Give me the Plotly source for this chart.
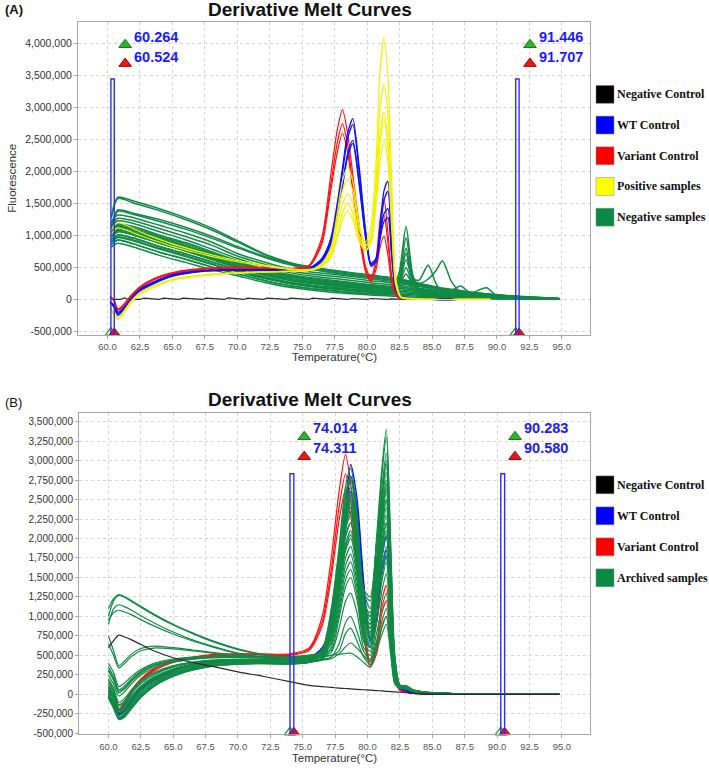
import plotly.graph_objects as go

# ===================== DATA =====================
# ---------- Panel A (values in thousands of fluorescence units) ----------
xa_ctrl = [60.2, 60.5, 60.8, 61.2, 61.8, 62.5, 63.5, 65, 66.5, 68, 70, 72, 74, 75.5, 76.5, 77.2, 77.7, 78.1,
           78.5, 78.9, 79.4, 79.9, 80.3, 80.7, 81.0, 81.3, 81.6, 81.9, 82.2, 82.6, 83.5, 85, 87, 89.5]

red_a_k = [
    [50, 0, -150, -90, 60, 200, 320, 420, 470, 495, 505, 495, 485, 530, 960, 1950, 2650, 2970, 2600, 1950,
     1150, 500, 340, 650, 1250, 1580, 1050, 350, 80, 20, 5, 0, 0, 0],
    [40, -10, -160, -100, 50, 190, 310, 410, 460, 485, 495, 490, 480, 520, 900, 1800, 2450, 2750, 2420, 1800,
     1050, 450, 300, 560, 1050, 1320, 900, 300, 70, 20, 5, 0, 0, 0],
    [30, -20, -170, -110, 40, 180, 300, 400, 455, 480, 490, 485, 475, 510, 850, 1700, 2300, 2600, 2300, 1700,
     980, 420, 280, 480, 820, 990, 700, 250, 60, 15, 5, 0, 0, 0],
]
blue_a_k = [
    [-40, -100, -210, -150, 0, 150, 260, 380, 430, 455, 465, 465, 460, 480, 640, 950, 1500, 2050, 2600, 2830,
     2050, 1050, 560, 650, 1150, 1700, 1850, 900, 200, 40, 10, 0, 0, 0],
    [-30, -90, -200, -140, 10, 160, 270, 385, 435, 458, 468, 466, 460, 475, 620, 920, 1450, 1980, 2520, 2740,
     1980, 1000, 520, 600, 1050, 1550, 1690, 820, 180, 35, 10, 0, 0, 0],
    [-50, -110, -230, -170, -10, 140, 250, 370, 425, 450, 460, 460, 455, 470, 600, 880, 1350, 1800, 2280, 2490,
     1820, 960, 570, 630, 1000, 1340, 1420, 700, 160, 30, 10, 0, 0, 0],
    [-45, -120, -250, -180, -20, 130, 240, 360, 420, 448, 458, 458, 452, 468, 590, 860, 1320, 1760, 2230, 2440,
     1780, 930, 540, 600, 940, 1220, 1280, 640, 150, 30, 10, 0, 0, 0],
]
yellow_a_k = [
    [-150, -250, -310, -230, -60, 80, 180, 300, 350, 380, 410, 425, 440, 450, 560, 800, 1350, 1850, 2070, 1850,
     1150, 850, 1000, 1900, 3000, 3370, 2900, 1500, 300, 40, 10, 0, 0, 0],
    [-130, -230, -290, -210, -40, 100, 200, 310, 360, 390, 415, 430, 440, 455, 540, 760, 1250, 1700, 1880, 1700,
     1100, 900, 1150, 2200, 3600, 4100, 3500, 1800, 350, 40, 10, 0, 0, 0],
    [-120, -220, -280, -200, -30, 110, 210, 320, 365, 395, 420, 432, 442, 452, 530, 720, 1150, 1500, 1650, 1500,
     1000, 820, 950, 1700, 2600, 2930, 2500, 1300, 280, 35, 10, 0, 0, 0],
    [1050, 1150, 1200, 1180, 1130, 1060, 980, 870, 780, 700, 610, 540, 480, 470, 520, 650, 950, 1250, 1380, 1250,
     900, 760, 900, 1650, 2450, 2820, 2400, 1250, 260, 35, 10, 0, 0, 0],
    [980, 1080, 1120, 1100, 1060, 1000, 930, 830, 750, 675, 590, 525, 470, 460, 510, 680, 1000, 1350, 1500, 1350,
     950, 780, 880, 1500, 2150, 2500, 2150, 1100, 230, 30, 10, 0, 0, 0],
]

xa_black = [60.3, 61.0, 61.3, 61.6, 62.5, 62.8, 64.0, 64.3, 65.5, 65.8, 67.3, 67.6, 69.0, 69.3, 70.5, 70.8,
            72.0, 72.3, 73.8, 74.1, 75.5, 75.8, 77.0, 77.3, 78.5, 78.8, 80.0, 80.3, 81.5, 81.8, 83.0, 89.5]
black_a_k = [0, 0, 25, 0, 0, 20, 0, 20, 0, 20, 0, 20, 0, 25, 0, 20, 0, 20, 0, 20, 0, 20, 0, 20, 0, 15, 0, 15,
             0, 10, 0, 0]

xa_green = [60.3, 60.8, 62, 64, 66, 68, 70, 72, 74, 76, 78, 80, 81, 82, 82.5, 83, 83.5, 84, 84.7, 85.3, 85.8,
            86.5, 87.2, 88, 89.2, 90, 92, 94.8]
green_a_k = [
    [1300, 1600, 1540, 1420, 1280, 1120, 920, 720, 580, 500, 440, 390, 365, 340, 320, 300, 280, 255, 225, 200, 180, 160, 140, 115, 90, 75, 45, 15],
    [1280, 1580, 1510, 1390, 1250, 1090, 900, 710, 570, 490, 430, 380, 355, 330, 310, 290, 270, 245, 215, 190, 170, 150, 130, 110, 85, 70, 42, 14],
    [1150, 1400, 1350, 1250, 1130, 990, 830, 680, 560, 470, 410, 360, 335, 310, 295, 280, 260, 240, 210, 185, 165, 145, 125, 105, 82, 68, 40, 13],
    [1120, 1380, 1330, 1220, 1100, 960, 810, 665, 545, 460, 400, 350, 325, 300, 285, 270, 250, 230, 200, 178, 160, 140, 120, 100, 80, 65, 38, 12],
    [820, 880, 820, 690, 580, 470, 370, 270, 190, 140, 100, 72, 62, 52, 47, 42, 38, 34, 29, 25, 22, 19, 16, 13, 10, 8, 5, 2],
    [860, 930, 870, 740, 630, 510, 400, 300, 215, 165, 125, 95, 82, 70, 64, 60, 55, 50, 44, 38, 34, 30, 26, 22, 17, 14, 9, 3],
    [900, 970, 915, 790, 670, 550, 430, 330, 245, 190, 150, 115, 100, 88, 82, 78, 72, 66, 58, 50, 45, 40, 34, 28, 22, 18, 11, 4],
    [940, 1010, 960, 830, 715, 590, 465, 355, 270, 215, 175, 140, 125, 112, 105, 100, 92, 84, 74, 65, 58, 51, 44, 36, 28, 23, 14, 5],
    [980, 1060, 1010, 880, 760, 630, 500, 385, 300, 245, 200, 165, 148, 135, 128, 122, 112, 102, 90, 79, 70, 61, 52, 43, 34, 28, 17, 6],
    [1020, 1100, 1050, 920, 800, 670, 535, 415, 330, 270, 225, 190, 172, 158, 150, 143, 132, 120, 106, 93, 83, 72, 62, 51, 40, 33, 20, 7],
    [1060, 1140, 1100, 970, 845, 710, 570, 450, 360, 300, 255, 215, 196, 180, 172, 164, 152, 139, 123, 108, 96, 84, 72, 60, 47, 38, 24, 9],
    [1100, 1180, 1140, 1010, 890, 750, 605, 480, 390, 330, 285, 240, 220, 203, 194, 185, 171, 157, 139, 122, 109, 96, 82, 68, 54, 44, 27, 10],
    [1140, 1230, 1190, 1060, 935, 790, 640, 515, 420, 360, 315, 270, 247, 228, 218, 208, 193, 177, 157, 139, 124, 108, 93, 77, 61, 50, 31, 11],
    [1180, 1270, 1230, 1110, 985, 850, 680, 555, 450, 390, 350, 300, 280, 257, 245, 233, 218, 202, 178, 158, 142, 124, 106, 88, 70, 57, 35, 13],
    [1220, 1320, 1280, 1160, 1040, 900, 720, 590, 480, 420, 380, 330, 305, 280, 265, 250, 235, 220, 195, 175, 160, 140, 120, 100, 80, 65, 40, 15],
    [980, 1060, 1010, 880, 760, 630, 500, 385, 300, 245, 200, 165, 150, 160, 450, 1140, 400, 150, 100, 85, 75, 65, 55, 45, 35, 28, 17, 6],
    [1050, 1130, 1080, 950, 830, 690, 560, 440, 350, 290, 245, 205, 185, 190, 420, 960, 380, 170, 120, 100, 88, 78, 66, 54, 42, 34, 21, 8],
    [900, 980, 930, 800, 690, 560, 440, 340, 255, 200, 160, 125, 110, 120, 330, 800, 300, 120, 85, 70, 60, 52, 44, 36, 28, 22, 13, 4],
    [1000, 1080, 1030, 900, 780, 650, 515, 400, 315, 255, 210, 175, 158, 165, 320, 720, 330, 300, 540, 250, 110, 90, 75, 60, 45, 36, 22, 8],
    [1080, 1160, 1120, 990, 870, 730, 590, 465, 375, 315, 270, 228, 208, 200, 300, 620, 320, 250, 320, 450, 606, 280, 120, 80, 60, 48, 29, 10],
    [940, 1010, 960, 830, 715, 590, 465, 355, 270, 215, 175, 140, 128, 135, 260, 500, 250, 150, 130, 115, 110, 140, 212, 90, 55, 40, 20, 6],
    [1020, 1100, 1050, 920, 800, 670, 535, 415, 330, 270, 225, 190, 175, 175, 240, 400, 230, 160, 140, 125, 115, 105, 95, 100, 182, 60, 25, 8],
    [860, 930, 870, 740, 630, 510, 400, 300, 215, 165, 125, 95, 85, 90, 170, 300, 170, 90, 70, 55, 48, 40, 34, 28, 22, 16, 10, 3],
]

# ---------- Panel B (values in thousands) ----------
xb = [60.0, 60.4, 60.8, 61.2, 61.8, 62.5, 63.5, 65, 66.5, 68, 70, 72, 74, 75.5, 76.5, 77.2, 77.8, 78.3, 78.7,
      79.2, 79.7, 80.2, 80.7, 81.1, 81.45, 81.8, 82.1, 82.5, 83.0, 83.5, 84.5, 86, 89, 92, 94.8]

black_b_k = [600, 690, 760, 740, 700, 640, 560, 470, 410, 360, 290, 230, 165, 115, 100, 90, 82, 76, 72, 66, 60,
             55, 50, 45, 40, 36, 32, 28, 22, 15, 8, 3, 0, 0, 0]
red_b_k = [
    [60, 0, -190, -120, 60, 200, 330, 430, 480, 510, 525, 520, 520, 600, 1000, 1750, 2600, 3080, 2700, 1800, 900,
     420, 650, 1200, 1400, 800, 250, 60, 30, 15, 5, 0, 0, 0, 0],
    [40, -20, -210, -140, 40, 185, 315, 420, 470, 500, 515, 512, 510, 580, 930, 1600, 2400, 2830, 2480, 1650, 820,
     380, 580, 1040, 1200, 700, 220, 55, 28, 14, 5, 0, 0, 0, 0],
    [30, -40, -230, -160, 20, 170, 300, 410, 462, 492, 508, 505, 502, 565, 880, 1500, 2230, 2630, 2300, 1530, 760,
     350, 520, 870, 1000, 580, 190, 50, 25, 12, 5, 0, 0, 0, 0],
]
blue_b_k = [
    [-20, -90, -240, -200, -60, 80, 200, 320, 390, 425, 445, 450, 448, 470, 600, 900, 1500, 2350, 2950, 2500, 1450,
     720, 1000, 1750, 2020, 1300, 350, 90, 50, 25, 8, 3, 0, 0, 0],
    [-30, -100, -250, -210, -70, 70, 190, 310, 380, 420, 440, 445, 444, 465, 590, 880, 1450, 2250, 2800, 2380, 1380,
     700, 950, 1620, 1850, 1200, 320, 85, 48, 24, 8, 3, 0, 0, 0],
    [-40, -110, -260, -220, -80, 60, 180, 300, 372, 412, 434, 440, 440, 460, 580, 860, 1400, 2100, 2600, 2200, 1300,
     680, 920, 1550, 1765, 1150, 300, 80, 45, 22, 7, 3, 0, 0, 0],
]
green_b_k = [
    [150, 30, -150, -110, 20, 140, 250, 350, 400, 430, 445, 445, 440, 460, 580, 1100, 1890, 2670, 2900, 2320, 1310, 1100, 2020, 2890, 3400, 1870, 510, 120, 110, 60, 30, 15, 8, 4, 0],
    [0, -120, -300, -260, -120, 20, 150, 270, 340, 380, 400, 405, 400, 420, 550, 1045, 1790, 2530, 2750, 2200, 1240, 1000, 1920, 2800, 3300, 1815, 495, 120, 110, 60, 30, 15, 8, 4, 0],
    [300, 180, 20, 60, 170, 270, 360, 430, 460, 475, 480, 475, 470, 490, 520, 990, 1690, 2390, 2600, 2080, 1170, 950, 1750, 2510, 2950, 1620, 440, 115, 105, 55, 28, 14, 7, 3, 0],
    [120, 0, -180, -140, -10, 110, 225, 330, 385, 418, 435, 437, 434, 455, 500, 950, 1625, 2300, 2500, 2000, 1125, 900, 1680, 2420, 2850, 1570, 430, 115, 100, 55, 28, 14, 7, 3, 0],
    [1000, 1200, 1270, 1250, 1190, 1120, 1020, 890, 780, 680, 575, 505, 462, 472, 480, 910, 1560, 2210, 2400, 1920, 1080, 850, 1590, 2300, 2700, 1485, 405, 110, 100, 55, 27, 13, 7, 3, 0],
    [30, -90, -270, -230, -90, 50, 175, 290, 355, 392, 410, 413, 408, 428, 470, 875, 1495, 2115, 2300, 1840, 1035, 800, 1520, 2210, 2600, 1430, 390, 110, 95, 50, 27, 13, 7, 3, 0],
    [350, 230, 60, 100, 205, 300, 385, 445, 472, 485, 490, 485, 480, 500, 540, 835, 1430, 2025, 2200, 1760, 990, 780, 1470, 2125, 2500, 1375, 375, 110, 95, 50, 26, 13, 6, 3, 0],
    [-50, -180, -320, -300, -180, -40, 100, 230, 310, 360, 390, 395, 390, 410, 460, 800, 1365, 1930, 2100, 1680, 945, 750, 1410, 2040, 2400, 1320, 360, 105, 95, 50, 26, 13, 6, 3, 0],
    [200, 80, -100, -60, 60, 175, 280, 370, 415, 440, 452, 452, 447, 467, 500, 760, 1300, 1840, 2000, 1600, 900, 700, 1340, 1955, 2300, 1265, 345, 105, 90, 50, 25, 12, 6, 3, 0],
    [750, 560, 370, 420, 520, 590, 620, 600, 570, 540, 500, 470, 450, 460, 510, 720, 1235, 1750, 1900, 1520, 855, 650, 1270, 1870, 2200, 1210, 330, 100, 90, 48, 25, 12, 6, 3, 0],
    [-20, -150, -310, -280, -150, -10, 125, 250, 325, 370, 392, 398, 394, 414, 460, 685, 1170, 1655, 1800, 1440, 810, 620, 1190, 1740, 2050, 1130, 310, 100, 85, 48, 24, 12, 6, 3, 0],
    [900, 1100, 1150, 1130, 1080, 1010, 920, 800, 700, 620, 530, 475, 450, 460, 520, 650, 1105, 1565, 1700, 1360, 765, 600, 1120, 1615, 1900, 1045, 285, 100, 85, 45, 24, 12, 6, 3, 0],
    [250, 130, -20, 25, 140, 245, 340, 415, 450, 468, 475, 472, 468, 488, 560, 1005, 1720, 2440, 2650, 2120, 1300, 1200, 1960, 2635, 3100, 1705, 465, 120, 110, 58, 28, 14, 7, 3, 0],
    [100, -20, -200, -160, -30, 95, 210, 320, 378, 412, 430, 432, 430, 450, 500, 930, 1590, 2255, 2450, 1960, 1100, 1000, 1480, 1870, 2200, 1210, 330, 105, 95, 50, 26, 13, 6, 3, 0],
    [60, -60, -240, -200, -60, 75, 195, 305, 365, 400, 418, 420, 415, 435, 440, 835, 1430, 2025, 2200, 1760, 1000, 900, 1640, 2340, 2750, 1510, 410, 110, 100, 55, 27, 13, 7, 3, 0],
    [400, 280, 100, 140, 235, 320, 400, 455, 478, 490, 495, 490, 485, 505, 530, 570, 975, 1380, 1500, 1200, 675, 550, 1010, 1445, 1700, 935, 255, 95, 80, 45, 23, 11, 5, 2, 0],
    [180, 50, -130, -90, 40, 160, 265, 360, 408, 436, 448, 448, 444, 462, 500, 540, 845, 1195, 1300, 1040, 600, 500, 920, 1320, 1550, 850, 230, 95, 80, 45, 22, 11, 5, 2, 0],
    [-30, -160, -300, -285, -165, -25, 115, 240, 318, 365, 393, 398, 393, 412, 450, 480, 650, 920, 1000, 800, 550, 450, 790, 1105, 1300, 715, 195, 90, 75, 40, 20, 10, 5, 2, 0],
    [10, -110, -290, -250, -110, 30, 160, 278, 346, 385, 403, 408, 402, 422, 440, 460, 520, 610, 660, 590, 500, 420, 690, 935, 1100, 605, 165, 85, 70, 40, 20, 10, 5, 2, 0],
    [320, 200, 40, 80, 185, 285, 372, 438, 466, 480, 486, 481, 476, 494, 500, 505, 515, 525, 530, 480, 410, 350, 570, 765, 900, 495, 135, 80, 70, 38, 18, 9, 4, 2, 0],
    [1100, 1230, 1280, 1260, 1200, 1130, 1030, 900, 790, 690, 585, 512, 468, 478, 560, 1065, 1820, 2575, 2800, 2240, 1350, 1250, 1950, 2550, 3000, 1650, 450, 115, 105, 55, 27, 14, 7, 3, 0],
    [650, 500, 340, 390, 490, 560, 595, 585, 560, 530, 495, 468, 448, 458, 520, 895, 1530, 2160, 2350, 1880, 1060, 700, 1260, 1785, 2100, 1155, 315, 100, 90, 48, 24, 12, 6, 3, 0],
    [90, -40, -210, -170, -40, 90, 205, 315, 375, 410, 428, 430, 428, 448, 500, 780, 1330, 1885, 2050, 1640, 950, 850, 1230, 1530, 1800, 990, 270, 100, 85, 45, 23, 11, 5, 2, 0],
    [-10, -140, -305, -270, -140, 0, 135, 258, 332, 374, 395, 401, 397, 417, 450, 610, 1040, 1470, 1600, 1280, 720, 600, 1360, 2125, 2500, 1375, 375, 105, 95, 50, 25, 12, 6, 3, 0],
    [-40, -170, -310, -290, -170, -30, 108, 236, 314, 362, 391, 396, 391, 411, 510, 970, 1660, 2345, 2550, 2040, 1150, 1050, 1690, 2250, 2650, 1460, 400, 110, 100, 52, 26, 13, 6, 3, 0],
    [950, 1050, 1080, 1060, 1020, 960, 880, 775, 685, 610, 525, 472, 448, 458, 480, 500, 560, 780, 850, 680, 480, 380, 630, 850, 1000, 550, 150, 85, 70, 38, 18, 9, 4, 2, 0],
]

# ---------- Cursors / ticks / legends ----------
cursors_a = [60.264, 60.524, 91.446, 91.707]
cursor_top_a = 3450000
cursors_b = [74.014, 74.311, 90.283, 90.580]
cursor_top_b = 2830000

x_tickvals = [60.0, 62.5, 65.0, 67.5, 70.0, 72.5, 75.0, 77.5, 80.0, 82.5, 85.0, 87.5, 90.0, 92.5, 95.0]
x_ticktext = ["60.0", "62.5", "65.0", "67.5", "70.0", "72.5", "75.0", "77.5", "80.0", "82.5", "85.0",
              "87.5", "90.0", "92.5", "95.0"]
ya_tickvals = [-500000, 0, 500000, 1000000, 1500000, 2000000, 2500000, 3000000, 3500000, 4000000]
ya_ticktext = ["-500,000", "0", "500,000", "1,000,000", "1,500,000", "2,000,000", "2,500,000", "3,000,000",
               "3,500,000", "4,000,000"]
yb_tickvals = [-500000, -250000, 0, 250000, 500000, 750000, 1000000, 1250000, 1500000, 1750000, 2000000,
               2250000, 2500000, 2750000, 3000000, 3250000, 3500000]
yb_ticktext = ["-500,000", "-250,000", "0", "250,000", "500,000", "750,000", "1,000,000", "1,250,000",
               "1,500,000", "1,750,000", "2,000,000", "2,250,000", "2,500,000", "2,750,000", "3,000,000",
               "3,250,000", "3,500,000"]

legend_a_names = ["Negative Control", "WT Control", "Variant Control", "Positive samples", "Negative samples"]
legend_a_colors = ["#000000", "#0000ff", "#ff0000", "#ffff00", "#0a8a43"]
legend_b_names = ["Negative Control", "WT Control", "Variant Control", "Archived samples"]
legend_b_colors = ["#000000", "#0000ff", "#ff0000", "#0a8a43"]

# ===================== FIGURE =====================
W, H = 709, 770
def px(x):
    return x / W
def py(y):
    return 1 - y / H

GREEN = "#118a45"
RED = "#ff1010"
BLUE = "#1010ff"
YELLOW = "#f2f200"
BLACK = "#2a2a2a"

fig = go.Figure()

def add_lines(xs, rows, color, xa, ya, width=1.1, shape="spline"):
    for row in rows:
        fig.add_trace(go.Scatter(
            x=xs, y=[v * 1000 for v in row], mode="lines",
            line=dict(color=color, width=width, shape=shape, smoothing=0.7 if shape == "spline" else None),
            xaxis=xa, yaxis=ya, hoverinfo="skip", showlegend=False))

# Panel A
add_lines(xa_green, green_a_k, GREEN, "x", "y", 1.5)
add_lines(xa_black, [black_a_k], BLACK, "x", "y", 1.2, shape="linear")
add_lines(xa_ctrl, red_a_k, RED, "x", "y", 1.2)
add_lines(xa_ctrl, blue_a_k, BLUE, "x", "y", 1.3)
add_lines(xa_ctrl, yellow_a_k, YELLOW, "x", "y", 1.2)

# Panel B
add_lines(xb, red_b_k, RED, "x2", "y2", 1.2)
add_lines(xb, blue_b_k, BLUE, "x2", "y2", 1.3)
add_lines(xb, green_b_k, GREEN, "x2", "y2", 1.2)
add_lines(xb, [black_b_k], BLACK, "x2", "y2", 1.2)

YA_RANGE = [-553000, 4343000]
YB_RANGE = [-510000, 3606000]
X_RANGE = [57.73, 97.17]

shapes = []
annotations = []

def cursor_decor(cursors, top, yrange, xa, ya, txt_y, tri_y):
    for i in range(0, len(cursors), 2):
        c1, c2 = cursors[i], cursors[i + 1]
        shapes.append(dict(type="rect", xref=xa, yref=ya, x0=c1, x1=c2, y0=yrange[0], y1=top,
                           line=dict(color="#2b2bff", width=1.4), fillcolor="rgba(0,0,0,0)"))
        ybot = yrange[0] + (yrange[1] - yrange[0]) * 0.006
        fig.add_trace(go.Scatter(x=[c1], y=[ybot], mode="markers",
                                 marker=dict(symbol="triangle-up", size=10, color="white",
                                             line=dict(color="#1f9a2a", width=1.3)),
                                 xaxis=xa, yaxis=ya, cliponaxis=False, hoverinfo="skip", showlegend=False))
        fig.add_trace(go.Scatter(x=[c2], y=[ybot], mode="markers",
                                 marker=dict(symbol="triangle-up", size=10, color="#ee1111",
                                             line=dict(color="#cc0000", width=1)),
                                 xaxis=xa, yaxis=ya, cliponaxis=False, hoverinfo="skip", showlegend=False))
        fig.add_trace(go.Scatter(x=[c1 + 1.1], y=[tri_y[0]], mode="markers",
                                 marker=dict(symbol="triangle-up", size=11, color="#2cb52c",
                                             line=dict(color="#137a13", width=1)),
                                 xaxis=xa, yaxis=ya, cliponaxis=False, hoverinfo="skip", showlegend=False))
        fig.add_trace(go.Scatter(x=[c1 + 1.1], y=[tri_y[1]], mode="markers",
                                 marker=dict(symbol="triangle-up", size=11, color="#e41a1a",
                                             line=dict(color="#a00000", width=1)),
                                 xaxis=xa, yaxis=ya, cliponaxis=False, hoverinfo="skip", showlegend=False))
        for val, yy in ((c1, txt_y[0]), (c2, txt_y[1])):
            annotations.append(dict(x=c1, y=yy, xref=xa, yref=ya, xanchor="left", yanchor="middle",
                                    xshift=21, text="<b>%.3f</b>" % val, showarrow=False,
                                    font=dict(family="Liberation Sans, Arial", size=14.5, color="#1a1aff")))

cursor_decor(cursors_a, cursor_top_a, YA_RANGE, "x", "y", (4110000, 3800000), (3985000, 3690000))
cursor_decor(cursors_b, cursor_top_b, YB_RANGE, "x2", "y2", (3411000, 3156000), (3305000, 3050000))

# Titles / labels
TITLE_FONT = dict(family="Liberation Sans, Arial", size=19, color="#111111")
annotations.append(dict(x=px(310), y=py(10), xref="paper", yref="paper", text="<b>Derivative Melt Curves</b>",
                        showarrow=False, font=TITLE_FONT, xanchor="center", yanchor="middle"))
annotations.append(dict(x=px(310), y=py(402), xref="paper", yref="paper", text="<b>Derivative Melt Curves</b>",
                        showarrow=False, font=TITLE_FONT, xanchor="center", yanchor="middle"))
annotations.append(dict(x=px(3), y=py(10), xref="paper", yref="paper", text="<b>(A)</b>", showarrow=False,
                        font=dict(family="Liberation Sans, Arial", size=13, color="#111"), xanchor="left",
                        yanchor="middle"))
annotations.append(dict(x=px(3), y=py(405), xref="paper", yref="paper", text="(B)", showarrow=False,
                        font=dict(family="Liberation Sans, Arial", size=13, color="#111"), xanchor="left",
                        yanchor="middle"))
AX_TITLE_FONT = dict(family="Liberation Sans, Arial", size=11.5, color="#333333")
annotations.append(dict(x=px(334), y=py(359), xref="paper", yref="paper", text="Temperature(°C)",
                        showarrow=False, font=AX_TITLE_FONT, xanchor="center", yanchor="middle"))
annotations.append(dict(x=px(334), y=py(763), xref="paper", yref="paper", text="Temperature(°C)",
                        showarrow=False, font=AX_TITLE_FONT, xanchor="center", yanchor="middle"))
annotations.append(dict(x=px(12), y=py(180), xref="paper", yref="paper", text="Fluorescence", textangle=-90,
                        showarrow=False, font=dict(family="Liberation Sans, Arial", size=11.5, color="#333"),
                        xanchor="center", yanchor="middle"))

# Legends
def legend(names, colors, y0, step):
    for i, (n, c) in enumerate(zip(names, colors)):
        yc = y0 + i * step
        shapes.append(dict(type="rect", xref="paper", yref="paper", x0=px(596), x1=px(614),
                           y0=py(yc + 9), y1=py(yc - 9), fillcolor=c, line=dict(color="#888", width=0.5)))
        annotations.append(dict(x=px(615), y=py(yc), xref="paper", yref="paper", text="<b>%s</b>" % n,
                                showarrow=False, xanchor="left", yanchor="middle",
                                font=dict(family="Liberation Serif, Times New Roman", size=12, color="#111")))

legend(legend_a_names, legend_a_colors, 95, 30.9)
legend(legend_b_names, legend_b_colors, 488, 31.2)

GRID = "#d6d6d6"
AXLINE = "#a8a8a8"
xcommon = dict(range=X_RANGE, tickmode="array", tickvals=x_tickvals, ticktext=x_ticktext,
               tickfont=dict(family="Liberation Sans Narrow, Arial Narrow, Liberation Sans", size=9.5,
                             color="#555"),
               showgrid=True, gridcolor=GRID, griddash="3px,3px", gridwidth=1,
               showline=True, mirror=True, linecolor=AXLINE, linewidth=1,
               ticks="outside", ticklen=3, tickcolor=AXLINE, zeroline=False, fixedrange=True)
ycommon = dict(tickmode="array", showgrid=True, gridcolor=GRID, griddash="3px,3px", gridwidth=1,
               showline=True, mirror=True, linecolor=AXLINE, linewidth=1, ticks="outside", ticklen=3,
               tickcolor=AXLINE, zeroline=False, fixedrange=True)

fig.update_layout(
    width=W, height=H, margin=dict(l=0, r=0, t=0, b=0),
    paper_bgcolor="white", plot_bgcolor="white", showlegend=False,
    xaxis=dict(domain=[px(78), px(590)], anchor="y", **xcommon),
    yaxis=dict(domain=[py(337), py(22)], anchor="x", range=YA_RANGE, tickvals=ya_tickvals,
               ticktext=ya_ticktext, tickfont=dict(family="Liberation Sans, Arial", size=10.5, color="#333"),
               **ycommon),
    xaxis2=dict(domain=[px(79), px(590)], anchor="y2", **xcommon),
    yaxis2=dict(domain=[py(739), py(416)], anchor="x2", range=YB_RANGE, tickvals=yb_tickvals,
                ticktext=yb_ticktext, tickfont=dict(family="Liberation Sans, Arial", size=10, color="#333"),
                **ycommon),
    shapes=shapes, annotations=annotations,
)

fig.write_html("out.html", config={"displayModeBar": False},
               post_script="document.body.style.margin='0';document.body.style.padding='0';"
                           "document.body.style.overflow='hidden';")
